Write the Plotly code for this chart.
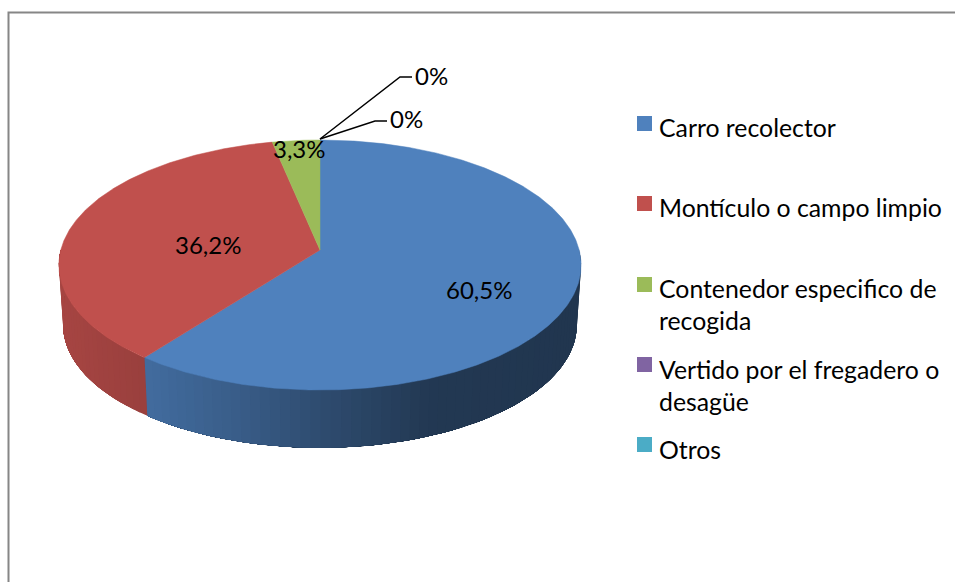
import numpy as np
import plotly.graph_objects as go

categories = [
    "Carro recolector",
    "Montículo o campo limpio",
    "Contenedor especifico de<br>recogida",
    "Vertido por el fregadero o<br>desagüe",
    "Otros",
]
values = [60.5, 36.2, 3.3, 0, 0]
colors = ["#4F81BD", "#C0504D", "#9BBB59", "#8064A2", "#4BACC6"]

# Excel style 3D pie: circle seen through a perspective, hub is not the ellipse centre
HUB_X, HUB_Y = 320, 250
BOTTOM_Y, BOTTOM_SCALE = 310, 0.984
A, B, K = 259.2, 123.2, 0.12
FONT = "Lato"
LEGEND_FONT_SIZE = 24.8
LABEL_FONT_SIZE = 24


def rim(t, hub_y=HUB_Y, scale=1.0):
    # t in degrees, clockwise from 12 o'clock
    r = np.radians(t)
    X, Y = np.sin(r), -np.cos(r)
    d = 1 - K * Y
    return HUB_X + scale * A * X / d, hub_y + scale * B * Y / d


def shade(color, f):
    c = [int(color[i : i + 2], 16) for i in (1, 3, 5)]
    return "rgb({},{},{})".format(*[int(v * f) for v in c])


def side_factor(x):
    return np.interp(x, [58, 145, 240, 330, 430, 581], [0.87, 0.80, 0.72, 0.58, 0.44, 0.42])


fig = go.Figure()

ends = np.cumsum(values) / 100 * 360
starts = ends - np.array(values) / 100 * 360

# side walls first, each strip runs on to the end of its slice and the next one paints over it
for start, end, color, value in zip(starts, ends, colors, values):
    lo, hi = max(start, 90), min(end, 270)
    if value == 0 or lo >= hi:
        continue
    edges = np.linspace(lo, hi, int((hi - lo) / 2) + 2)
    for t0, t1 in zip(edges[:-1], edges[1:]):
        ts = np.linspace(t0, hi, max(int((hi - t0) / 2), 1) + 1)
        x_top, y_top = rim(ts)
        x_bot, y_bot = rim(ts[::-1], BOTTOM_Y, BOTTOM_SCALE)
        x_mid = rim((t0 + t1) / 2)[0]
        f = side_factor(x_mid)
        if color == colors[0] and x_mid < 240:
            f = np.interp(x_mid, [145, 240], [0.84, 0.72])
        c = shade(color, f)
        fig.add_trace(
            go.Scatter(
                x=np.r_[x_top, x_bot, x_top[0]],
                y=np.r_[y_top, y_bot, y_top[0]],
                mode="lines",
                fill="toself",
                fillcolor=c,
                line=dict(width=0),
                hoverinfo="skip",
                showlegend=False,
            )
        )

# top faces
for name, start, end, color, value in zip(categories, starts, ends, colors, values):
    if value == 0:
        continue
    ts = np.linspace(start, end, int(end - start) * 2 + 2)
    x_rim, y_rim = rim(ts)
    fig.add_trace(
        go.Scatter(
            x=np.r_[HUB_X, x_rim, HUB_X],
            y=np.r_[HUB_Y, y_rim, HUB_Y],
            mode="lines",
            fill="toself",
            fillcolor=color,
            line=dict(color=color, width=0.5),
            name=name,
            showlegend=False,
        )
    )

shapes = [
    # chart frame, runs off the right and bottom of the picture
    dict(
        type="path",
        path="M 8.5 590 L 8.5 12.5 L 965 12.5",
        line=dict(color="#868686", width=2),
    ),
    # leader lines of the two 0% labels
    dict(type="path", path="M 320 139 L 400 77 L 412 77", line=dict(color="#000000", width=1.5)),
    dict(type="path", path="M 320 139 L 375 121 L 387 121", line=dict(color="#000000", width=1.5)),
]

# legend
legend_y = [116, 196, 277, 357, 437]
for y, color in zip(legend_y, colors):
    shapes.append(
        dict(type="rect", x0=637, x1=652, y0=y, y1=y + 15, fillcolor=color, line=dict(width=0))
    )

annotations = []
legend_text_y = [127, 207, 304, 385, 449]
for y, name in zip(legend_text_y, categories):
    annotations.append(
        dict(x=657, y=y, text=name, xanchor="left", yanchor="middle", align="left",
             showarrow=False, font=dict(family=FONT, size=LEGEND_FONT_SIZE, color="#000000"))
    )

# data labels
label_pos = [(479, 289), (208, 244.5), (299, 148), (431, 75), (406, 118)]
for (x, y), value in zip(label_pos, values):
    text = f"{value:.1f}%".replace(".", ",") if value else "0%"
    annotations.append(
        dict(x=x, y=y, text=text, xanchor="center", yanchor="middle", showarrow=False,
             font=dict(family=FONT, size=LABEL_FONT_SIZE, color="#000000"))
    )

fig.update_xaxes(range=[0, 955], visible=False, fixedrange=True)
fig.update_yaxes(range=[582, 0], visible=False, fixedrange=True)
fig.update_layout(
    width=955,
    height=582,
    margin=dict(l=0, r=0, t=0, b=0),
    paper_bgcolor="white",
    plot_bgcolor="white",
    shapes=shapes,
    annotations=annotations,
    showlegend=False,
)
# browser's default body margin would shift the whole picture by 8px
fig.write_html(
    "out.html",
    config=dict(displayModeBar=False),
    post_script="document.body.style.margin='0';",
)
